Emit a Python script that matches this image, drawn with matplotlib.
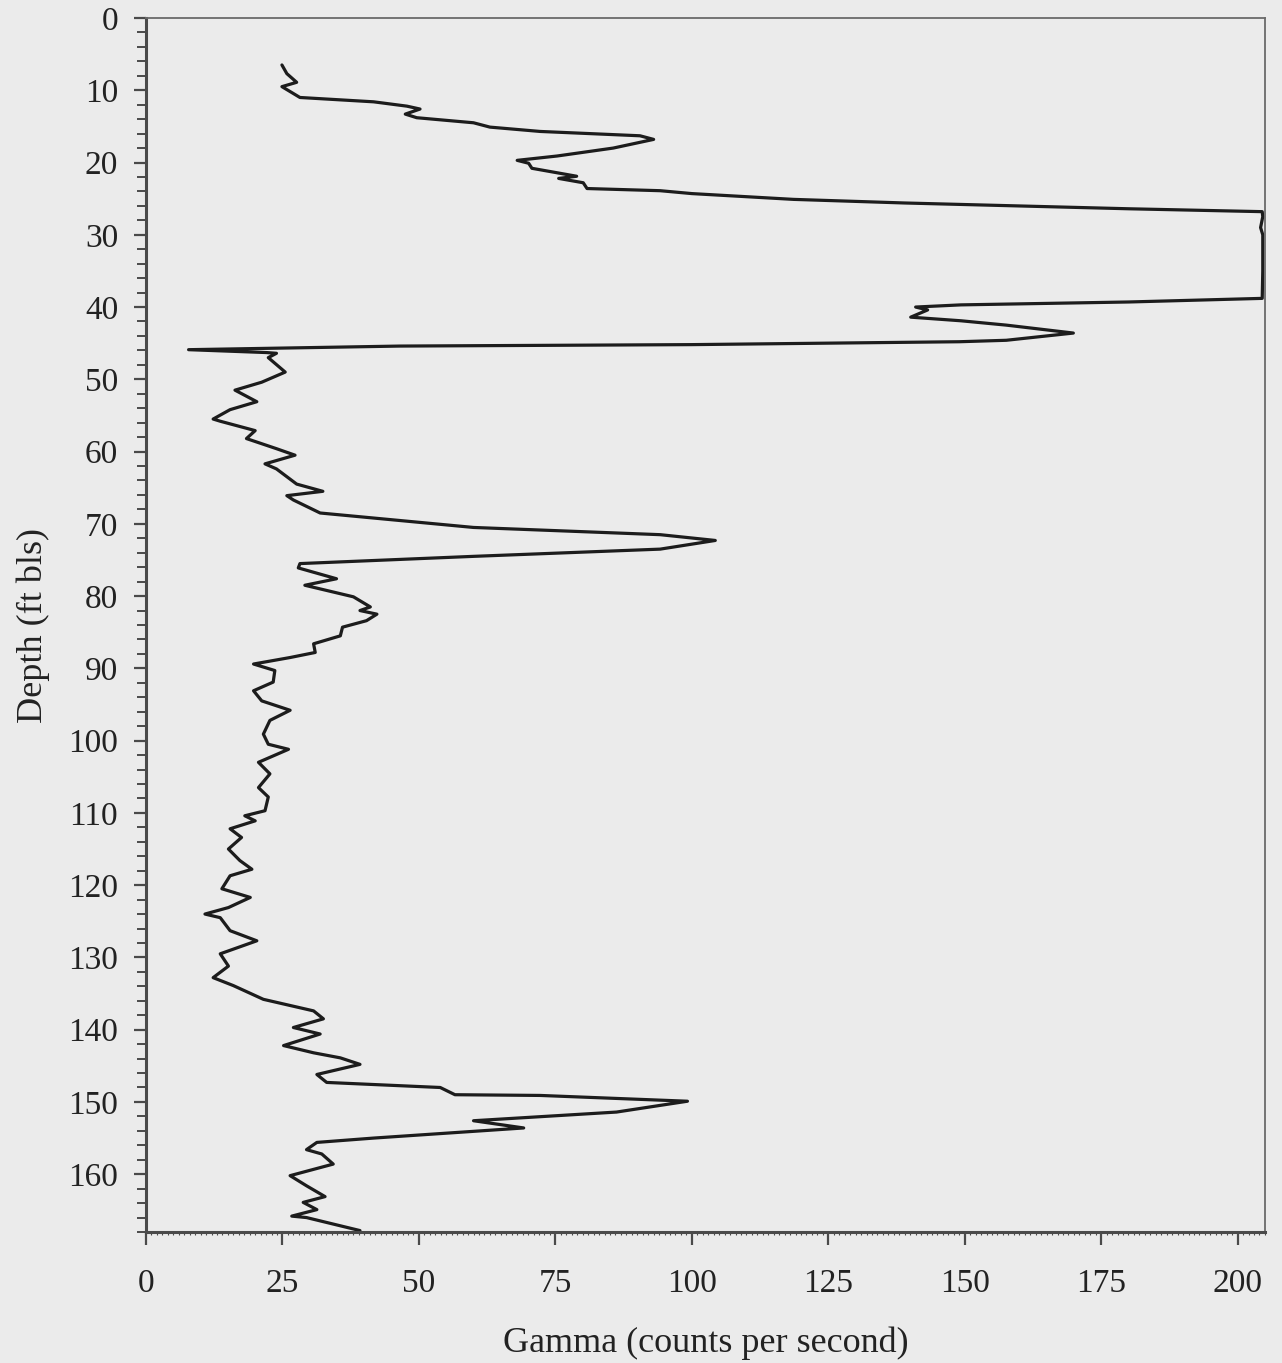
import matplotlib
matplotlib.use("Agg")
import matplotlib.pyplot as plt
from matplotlib.ticker import MultipleLocator

# Natural gamma log: depth below land surface (ft) and gamma count rate (cps)
depth_ft = [
    6.5, 7.7, 8.9, 9.5, 11.0, 11.6, 12.2, 12.6, 13.3, 13.8,
    14.5, 15.1, 15.7, 16.3, 16.8, 18.0, 19.1, 19.7, 20.1, 20.8,
    21.5, 21.9, 22.2, 22.8, 23.6, 23.9, 24.3, 25.1, 25.6, 26.0, 26.4,
    26.8, 27.5, 29.0, 30.0, 35.0, 38.8, 39.3, 39.7, 40.0, 40.4,
    41.4, 41.9, 42.5, 43.6, 44.6, 44.8, 45.2, 45.4, 45.9, 46.3,
    46.4, 47.0, 49.0, 50.4, 51.5, 53.1, 54.2, 55.5, 55.8, 57.1,
    58.2, 59.6, 60.5, 61.7, 62.4, 64.5, 65.5, 66.1, 66.7, 68.5,
    70.5, 71.5, 72.3, 73.5, 74.5, 75.5, 76.1, 77.6, 78.5, 80.1,
    81.5, 82.0, 82.5, 83.4, 84.3, 85.5, 86.6, 87.8, 88.5, 89.4,
    90.3, 91.9, 93.1, 94.5, 95.8, 97.2, 99.1, 100.5, 101.2, 103.0,
    104.6, 106.5, 107.8, 109.7, 110.4, 111.1, 112.2, 113.4, 115.0, 116.6,
    117.8, 118.7, 120.5, 121.7, 123.1, 124.0, 124.5, 126.3, 127.7, 129.5,
    131.2, 132.8, 133.9, 135.8, 137.4, 138.5, 139.7, 140.6, 142.2, 143.2,
    143.9, 144.8, 146.2, 147.3, 148.0, 149.0, 149.1, 149.9, 151.4, 152.6,
    153.6, 155.0, 155.6, 156.6, 157.2, 158.6, 160.2, 161.6, 163.1, 163.9,
    164.9, 165.8, 166.0, 167.8,
]
gamma_cps = [
    24.9, 25.8, 27.6, 24.9, 28.2, 41.7, 47.8, 50.2, 47.5, 49.6,
    60.0, 63.0, 72.2, 90.5, 93.0, 85.6, 75.3, 68.0, 70.1, 70.7,
    75.9, 78.9, 75.6, 80.1, 80.8, 94.2, 100.0, 118.6, 139.0, 159.6, 180.0,
    204.5, 204.6, 204.2, 204.6, 204.6, 204.5, 180.0, 149.3, 141.0, 143.2,
    140.1, 149.3, 157.6, 169.9, 157.6, 149.0, 100.0, 46.5, 7.8, 22.1,
    23.9, 22.4, 25.5, 21.2, 16.3, 20.3, 15.4, 12.3, 13.6, 20.0,
    18.4, 23.9, 27.3, 21.8, 23.9, 27.6, 32.4, 25.8, 27.0, 31.9,
    60.0, 94.2, 104.3, 94.2, 60.0, 28.2, 27.9, 34.9, 29.1, 38.0,
    41.1, 39.2, 42.3, 40.4, 36.0, 35.6, 30.7, 31.0, 26.4, 19.7,
    23.6, 23.3, 19.7, 21.2, 26.4, 22.7, 21.5, 22.4, 26.1, 20.6,
    22.7, 20.6, 22.4, 21.8, 18.1, 20.0, 15.4, 17.5, 15.1, 17.2,
    19.4, 15.4, 13.9, 19.1, 15.1, 10.8, 13.6, 15.4, 20.3, 13.6,
    15.1, 12.3, 16.0, 21.5, 30.7, 32.5, 27.0, 31.9, 25.2, 30.7,
    35.6, 39.2, 31.3, 33.1, 53.9, 56.6, 72.2, 99.2, 86.2, 60.0,
    69.2, 41.7, 31.3, 29.4, 32.2, 34.3, 26.4, 29.4, 32.8, 28.8,
    31.3, 26.7, 29.4, 39.2,
]

x_ticks = [0, 25, 50, 75, 100, 125, 150, 175, 200]
y_ticks = list(range(0, 170, 10))

bg = "#ebebeb"
ink = "#1c1c1c"
axis_col = "#4a4a4a"

plt.rcParams["font.family"] = ["Liberation Serif", "DejaVu Serif"]

fig = plt.figure(figsize=(12.82, 13.63), dpi=100, facecolor=bg)
ax = fig.add_axes([0.1139, 0.0961, 0.8728, 0.8907], facecolor=bg)

ax.plot(gamma_cps, depth_ft, color=ink, lw=2.3, solid_joinstyle="round",
        solid_capstyle="round")

ax.set_xlim(0, 205)
ax.set_ylim(168, 0)

ax.set_xticks(x_ticks)
ax.set_yticks(y_ticks)
ax.xaxis.set_minor_locator(MultipleLocator(1))
ax.yaxis.set_minor_locator(MultipleLocator(2))

ax.tick_params(axis="x", which="major", direction="out", length=9, width=1.6,
               color=axis_col, labelsize=24, pad=17, labelcolor="#222222")
ax.tick_params(axis="x", which="minor", direction="out", length=2.5, width=0.8,
               color=axis_col)
ax.tick_params(axis="y", which="major", direction="out", length=9, width=1.6,
               color=axis_col, labelsize=24, pad=11, labelcolor="#222222")
ax.tick_params(axis="y", which="minor", direction="out", length=6.5, width=1.4,
               color=axis_col)

for side in ("left", "bottom"):
    ax.spines[side].set_color(axis_col)
    ax.spines[side].set_linewidth(2.2)
for side in ("top", "right"):
    ax.spines[side].set_color("#6a6a6a")
    ax.spines[side].set_linewidth(1.3)

ax.set_xlabel("Gamma (counts per second)", fontsize=26, color="#222222",
              labelpad=20)
ax.set_ylabel("Depth (ft bls)", fontsize=26, color="#222222", labelpad=13)

fig.savefig("out.png", dpi=100, facecolor=bg)
